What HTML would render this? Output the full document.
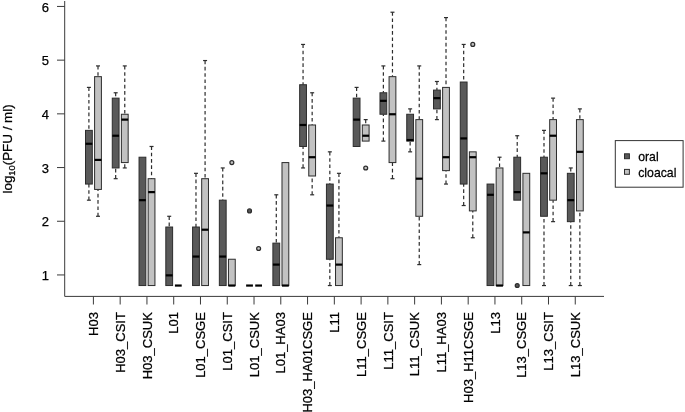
<!DOCTYPE html>
<html><head><meta charset="utf-8"><title>boxplot</title>
<style>
html,body{margin:0;padding:0;background:#fff;}
svg{display:block;}
.t{font-family:"Liberation Sans",Arial,sans-serif;font-size:13px;fill:#000;stroke:#000;stroke-width:0.25px;}
.a{stroke:#3a3a3a;stroke-width:1;fill:none;}
.w{stroke:#2c2c2c;stroke-width:1.2;stroke-dasharray:3.6 2.7;fill:none;}
.s{stroke:#2c2c2c;stroke-width:1.2;fill:none;}
.b{stroke:#2c2c2c;stroke-width:1;}
.m{stroke:#000;stroke-width:2.2;stroke-linecap:butt;}
.o{stroke:#2c2c2c;stroke-width:1.25;}
</style></head><body>
<svg width="685" height="412" viewBox="0 0 685 412">
<rect width="685" height="412" fill="#fff"/>
<line x1="88.90" y1="87.40" x2="88.90" y2="130.36" class="w"/>
<line x1="86.90" y1="87.40" x2="90.90" y2="87.40" class="s"/>
<line x1="88.90" y1="200.17" x2="88.90" y2="184.06" class="w"/>
<line x1="86.90" y1="200.17" x2="90.90" y2="200.17" class="s"/>
<rect x="85.50" y="130.36" width="6.80" height="53.70" fill="#595959" class="b"/>
<line x1="85.50" y1="143.78" x2="92.30" y2="143.78" class="m"/>
<line x1="98.00" y1="65.92" x2="98.00" y2="76.66" class="w"/>
<line x1="96.00" y1="65.92" x2="100.00" y2="65.92" class="s"/>
<line x1="98.00" y1="216.28" x2="98.00" y2="189.43" class="w"/>
<line x1="96.00" y1="216.28" x2="100.00" y2="216.28" class="s"/>
<rect x="94.60" y="76.66" width="6.80" height="112.77" fill="#c2c2c2" class="b"/>
<line x1="94.60" y1="159.90" x2="101.40" y2="159.90" class="m"/>
<line x1="115.67" y1="92.77" x2="115.67" y2="98.14" class="w"/>
<line x1="113.67" y1="92.77" x2="117.67" y2="92.77" class="s"/>
<line x1="115.67" y1="178.69" x2="115.67" y2="167.95" class="w"/>
<line x1="113.67" y1="178.69" x2="117.67" y2="178.69" class="s"/>
<rect x="112.27" y="98.14" width="6.80" height="69.81" fill="#595959" class="b"/>
<line x1="112.27" y1="135.73" x2="119.07" y2="135.73" class="m"/>
<line x1="124.77" y1="65.92" x2="124.77" y2="114.25" class="w"/>
<line x1="122.77" y1="65.92" x2="126.77" y2="65.92" class="s"/>
<line x1="124.77" y1="167.95" x2="124.77" y2="162.58" class="w"/>
<line x1="122.77" y1="167.95" x2="126.77" y2="167.95" class="s"/>
<rect x="121.37" y="114.25" width="6.80" height="48.33" fill="#c2c2c2" class="b"/>
<line x1="121.37" y1="119.62" x2="128.17" y2="119.62" class="m"/>
<rect x="139.04" y="157.21" width="6.80" height="128.34" fill="#595959" class="b"/>
<line x1="139.04" y1="200.17" x2="145.84" y2="200.17" class="m"/>
<line x1="151.54" y1="146.47" x2="151.54" y2="178.69" class="w"/>
<line x1="149.54" y1="146.47" x2="153.54" y2="146.47" class="s"/>
<rect x="148.14" y="178.69" width="6.80" height="106.86" fill="#c2c2c2" class="b"/>
<line x1="148.14" y1="192.12" x2="154.94" y2="192.12" class="m"/>
<line x1="169.21" y1="216.28" x2="169.21" y2="227.02" class="w"/>
<line x1="167.21" y1="216.28" x2="171.21" y2="216.28" class="s"/>
<rect x="165.81" y="227.02" width="6.80" height="58.53" fill="#595959" class="b"/>
<line x1="165.81" y1="275.35" x2="172.61" y2="275.35" class="m"/>
<line x1="174.91" y1="285.55" x2="181.71" y2="285.55" class="m"/>
<line x1="195.98" y1="173.32" x2="195.98" y2="227.02" class="w"/>
<line x1="193.98" y1="173.32" x2="197.98" y2="173.32" class="s"/>
<rect x="192.58" y="227.02" width="6.80" height="58.53" fill="#595959" class="b"/>
<line x1="192.58" y1="256.56" x2="199.38" y2="256.56" class="m"/>
<line x1="205.08" y1="60.55" x2="205.08" y2="178.69" class="w"/>
<line x1="203.08" y1="60.55" x2="207.08" y2="60.55" class="s"/>
<rect x="201.68" y="178.69" width="6.80" height="106.86" fill="#c2c2c2" class="b"/>
<line x1="201.68" y1="229.71" x2="208.48" y2="229.71" class="m"/>
<line x1="222.75" y1="167.95" x2="222.75" y2="200.17" class="w"/>
<line x1="220.75" y1="167.95" x2="224.75" y2="167.95" class="s"/>
<rect x="219.35" y="200.17" width="6.80" height="85.38" fill="#595959" class="b"/>
<line x1="219.35" y1="256.56" x2="226.15" y2="256.56" class="m"/>
<rect x="228.45" y="259.24" width="6.80" height="26.31" fill="#c2c2c2" class="b"/>
<line x1="228.45" y1="285.55" x2="235.25" y2="285.55" class="m"/>
<circle cx="231.85" cy="162.58" r="1.95" fill="#c2c2c2" class="o"/>
<line x1="246.12" y1="285.55" x2="252.92" y2="285.55" class="m"/>
<circle cx="249.52" cy="210.91" r="1.95" fill="#595959" class="o"/>
<line x1="255.22" y1="285.55" x2="262.02" y2="285.55" class="m"/>
<circle cx="258.62" cy="248.50" r="1.95" fill="#c2c2c2" class="o"/>
<line x1="276.29" y1="194.80" x2="276.29" y2="243.13" class="w"/>
<line x1="274.29" y1="194.80" x2="278.29" y2="194.80" class="s"/>
<rect x="272.89" y="243.13" width="6.80" height="42.42" fill="#595959" class="b"/>
<line x1="272.89" y1="264.61" x2="279.69" y2="264.61" class="m"/>
<rect x="281.99" y="162.58" width="6.80" height="122.97" fill="#c2c2c2" class="b"/>
<line x1="281.99" y1="285.55" x2="288.79" y2="285.55" class="m"/>
<line x1="303.06" y1="44.44" x2="303.06" y2="84.72" class="w"/>
<line x1="301.06" y1="44.44" x2="305.06" y2="44.44" class="s"/>
<line x1="303.06" y1="167.95" x2="303.06" y2="146.47" class="w"/>
<line x1="301.06" y1="167.95" x2="305.06" y2="167.95" class="s"/>
<rect x="299.66" y="84.72" width="6.80" height="61.75" fill="#595959" class="b"/>
<line x1="299.66" y1="124.99" x2="306.46" y2="124.99" class="m"/>
<line x1="312.16" y1="92.77" x2="312.16" y2="124.99" class="w"/>
<line x1="310.16" y1="92.77" x2="314.16" y2="92.77" class="s"/>
<line x1="312.16" y1="194.80" x2="312.16" y2="176.00" class="w"/>
<line x1="310.16" y1="194.80" x2="314.16" y2="194.80" class="s"/>
<rect x="308.76" y="124.99" width="6.80" height="51.01" fill="#c2c2c2" class="b"/>
<line x1="308.76" y1="157.21" x2="315.56" y2="157.21" class="m"/>
<line x1="329.83" y1="151.84" x2="329.83" y2="184.06" class="w"/>
<line x1="327.83" y1="151.84" x2="331.83" y2="151.84" class="s"/>
<line x1="329.83" y1="285.55" x2="329.83" y2="259.24" class="w"/>
<line x1="327.83" y1="285.55" x2="331.83" y2="285.55" class="s"/>
<rect x="326.43" y="184.06" width="6.80" height="75.18" fill="#595959" class="b"/>
<line x1="326.43" y1="205.54" x2="333.23" y2="205.54" class="m"/>
<line x1="338.93" y1="173.32" x2="338.93" y2="237.76" class="w"/>
<line x1="336.93" y1="173.32" x2="340.93" y2="173.32" class="s"/>
<rect x="335.53" y="237.76" width="6.80" height="47.79" fill="#c2c2c2" class="b"/>
<line x1="335.53" y1="264.61" x2="342.33" y2="264.61" class="m"/>
<line x1="356.60" y1="87.40" x2="356.60" y2="98.14" class="w"/>
<line x1="354.60" y1="87.40" x2="358.60" y2="87.40" class="s"/>
<rect x="353.20" y="98.14" width="6.80" height="48.33" fill="#595959" class="b"/>
<line x1="353.20" y1="119.62" x2="360.00" y2="119.62" class="m"/>
<line x1="365.70" y1="119.62" x2="365.70" y2="124.99" class="w"/>
<line x1="363.70" y1="119.62" x2="367.70" y2="119.62" class="s"/>
<rect x="362.30" y="124.99" width="6.80" height="16.11" fill="#c2c2c2" class="b"/>
<line x1="362.30" y1="135.73" x2="369.10" y2="135.73" class="m"/>
<circle cx="365.70" cy="167.95" r="1.95" fill="#c2c2c2" class="o"/>
<line x1="383.37" y1="65.92" x2="383.37" y2="92.77" class="w"/>
<line x1="381.37" y1="65.92" x2="385.37" y2="65.92" class="s"/>
<line x1="383.37" y1="141.10" x2="383.37" y2="114.25" class="w"/>
<line x1="381.37" y1="141.10" x2="385.37" y2="141.10" class="s"/>
<rect x="379.97" y="92.77" width="6.80" height="21.48" fill="#595959" class="b"/>
<line x1="379.97" y1="100.83" x2="386.77" y2="100.83" class="m"/>
<line x1="392.47" y1="12.22" x2="392.47" y2="76.66" class="w"/>
<line x1="390.47" y1="12.22" x2="394.47" y2="12.22" class="s"/>
<line x1="392.47" y1="178.69" x2="392.47" y2="162.58" class="w"/>
<line x1="390.47" y1="178.69" x2="394.47" y2="178.69" class="s"/>
<rect x="389.07" y="76.66" width="6.80" height="85.92" fill="#c2c2c2" class="b"/>
<line x1="389.07" y1="114.25" x2="395.87" y2="114.25" class="m"/>
<line x1="410.14" y1="108.88" x2="410.14" y2="114.25" class="w"/>
<line x1="408.14" y1="108.88" x2="412.14" y2="108.88" class="s"/>
<line x1="410.14" y1="151.84" x2="410.14" y2="141.10" class="w"/>
<line x1="408.14" y1="151.84" x2="412.14" y2="151.84" class="s"/>
<rect x="406.74" y="114.25" width="6.80" height="26.85" fill="#595959" class="b"/>
<line x1="406.74" y1="140.03" x2="413.54" y2="140.03" class="m"/>
<line x1="419.24" y1="65.92" x2="419.24" y2="119.62" class="w"/>
<line x1="417.24" y1="65.92" x2="421.24" y2="65.92" class="s"/>
<line x1="419.24" y1="264.61" x2="419.24" y2="216.28" class="w"/>
<line x1="417.24" y1="264.61" x2="421.24" y2="264.61" class="s"/>
<rect x="415.84" y="119.62" width="6.80" height="96.66" fill="#c2c2c2" class="b"/>
<line x1="415.84" y1="178.69" x2="422.64" y2="178.69" class="m"/>
<line x1="436.91" y1="81.49" x2="436.91" y2="90.09" class="w"/>
<line x1="434.91" y1="81.49" x2="438.91" y2="81.49" class="s"/>
<line x1="436.91" y1="119.62" x2="436.91" y2="108.88" class="w"/>
<line x1="434.91" y1="119.62" x2="438.91" y2="119.62" class="s"/>
<rect x="433.51" y="90.09" width="6.80" height="18.80" fill="#595959" class="b"/>
<line x1="433.51" y1="98.14" x2="440.31" y2="98.14" class="m"/>
<line x1="446.01" y1="17.59" x2="446.01" y2="87.40" class="w"/>
<line x1="444.01" y1="17.59" x2="448.01" y2="17.59" class="s"/>
<line x1="446.01" y1="184.06" x2="446.01" y2="170.63" class="w"/>
<line x1="444.01" y1="184.06" x2="448.01" y2="184.06" class="s"/>
<rect x="442.61" y="87.40" width="6.80" height="83.23" fill="#c2c2c2" class="b"/>
<line x1="442.61" y1="157.21" x2="449.41" y2="157.21" class="m"/>
<line x1="463.68" y1="44.44" x2="463.68" y2="82.03" class="w"/>
<line x1="461.68" y1="44.44" x2="465.68" y2="44.44" class="s"/>
<line x1="463.68" y1="205.54" x2="463.68" y2="184.06" class="w"/>
<line x1="461.68" y1="205.54" x2="465.68" y2="205.54" class="s"/>
<rect x="460.28" y="82.03" width="6.80" height="102.03" fill="#595959" class="b"/>
<line x1="460.28" y1="138.42" x2="467.08" y2="138.42" class="m"/>
<line x1="472.78" y1="237.76" x2="472.78" y2="210.91" class="w"/>
<line x1="470.78" y1="237.76" x2="474.78" y2="237.76" class="s"/>
<rect x="469.38" y="151.84" width="6.80" height="59.07" fill="#c2c2c2" class="b"/>
<line x1="469.38" y1="157.21" x2="476.18" y2="157.21" class="m"/>
<circle cx="472.78" cy="44.44" r="1.95" fill="#c2c2c2" class="o"/>
<rect x="487.05" y="184.06" width="6.80" height="101.49" fill="#595959" class="b"/>
<line x1="487.05" y1="194.80" x2="493.85" y2="194.80" class="m"/>
<line x1="499.55" y1="157.21" x2="499.55" y2="167.95" class="w"/>
<line x1="497.55" y1="157.21" x2="501.55" y2="157.21" class="s"/>
<rect x="496.15" y="167.95" width="6.80" height="117.60" fill="#c2c2c2" class="b"/>
<line x1="496.15" y1="285.55" x2="502.95" y2="285.55" class="m"/>
<line x1="517.22" y1="135.73" x2="517.22" y2="157.21" class="w"/>
<line x1="515.22" y1="135.73" x2="519.22" y2="135.73" class="s"/>
<rect x="513.82" y="157.21" width="6.80" height="42.96" fill="#595959" class="b"/>
<line x1="513.82" y1="192.12" x2="520.62" y2="192.12" class="m"/>
<circle cx="517.22" cy="285.55" r="1.95" fill="#595959" class="o"/>
<rect x="522.92" y="173.32" width="6.80" height="112.23" fill="#c2c2c2" class="b"/>
<line x1="522.92" y1="232.39" x2="529.72" y2="232.39" class="m"/>
<line x1="543.99" y1="130.36" x2="543.99" y2="157.21" class="w"/>
<line x1="541.99" y1="130.36" x2="545.99" y2="130.36" class="s"/>
<line x1="543.99" y1="285.55" x2="543.99" y2="216.28" class="w"/>
<line x1="541.99" y1="285.55" x2="545.99" y2="285.55" class="s"/>
<rect x="540.59" y="157.21" width="6.80" height="59.07" fill="#595959" class="b"/>
<line x1="540.59" y1="173.32" x2="547.39" y2="173.32" class="m"/>
<line x1="553.09" y1="98.14" x2="553.09" y2="119.62" class="w"/>
<line x1="551.09" y1="98.14" x2="555.09" y2="98.14" class="s"/>
<line x1="553.09" y1="221.65" x2="553.09" y2="200.17" class="w"/>
<line x1="551.09" y1="221.65" x2="555.09" y2="221.65" class="s"/>
<rect x="549.69" y="119.62" width="6.80" height="80.55" fill="#c2c2c2" class="b"/>
<line x1="549.69" y1="135.73" x2="556.49" y2="135.73" class="m"/>
<line x1="570.76" y1="167.95" x2="570.76" y2="173.32" class="w"/>
<line x1="568.76" y1="167.95" x2="572.76" y2="167.95" class="s"/>
<line x1="570.76" y1="285.55" x2="570.76" y2="221.65" class="w"/>
<line x1="568.76" y1="285.55" x2="572.76" y2="285.55" class="s"/>
<rect x="567.36" y="173.32" width="6.80" height="48.33" fill="#595959" class="b"/>
<line x1="567.36" y1="200.17" x2="574.16" y2="200.17" class="m"/>
<line x1="579.86" y1="108.88" x2="579.86" y2="119.62" class="w"/>
<line x1="577.86" y1="108.88" x2="581.86" y2="108.88" class="s"/>
<line x1="579.86" y1="285.55" x2="579.86" y2="210.91" class="w"/>
<line x1="577.86" y1="285.55" x2="581.86" y2="285.55" class="s"/>
<rect x="576.46" y="119.62" width="6.80" height="91.29" fill="#c2c2c2" class="b"/>
<line x1="576.46" y1="151.84" x2="583.26" y2="151.84" class="m"/>
<polyline points="64.7,1 64.7,296.4 604,296.4" class="a"/>
<line x1="57" y1="274.95" x2="64.7" y2="274.95" class="a"/>
<text x="48.9" y="280.00" text-anchor="end" class="t">1</text>
<line x1="57" y1="221.25" x2="64.7" y2="221.25" class="a"/>
<text x="48.9" y="226.30" text-anchor="end" class="t">2</text>
<line x1="57" y1="167.55" x2="64.7" y2="167.55" class="a"/>
<text x="48.9" y="172.60" text-anchor="end" class="t">3</text>
<line x1="57" y1="113.85" x2="64.7" y2="113.85" class="a"/>
<text x="48.9" y="118.90" text-anchor="end" class="t">4</text>
<line x1="57" y1="60.15" x2="64.7" y2="60.15" class="a"/>
<text x="48.9" y="65.20" text-anchor="end" class="t">5</text>
<line x1="57" y1="6.45" x2="64.7" y2="6.45" class="a"/>
<text x="48.9" y="11.50" text-anchor="end" class="t">6</text>
<line x1="93.40" y1="296.4" x2="93.40" y2="304.5" class="a"/>
<text transform="translate(98.10,312.1) rotate(-90)" text-anchor="end" class="t">H03</text>
<line x1="120.17" y1="296.4" x2="120.17" y2="304.5" class="a"/>
<text transform="translate(124.87,312.1) rotate(-90)" text-anchor="end" class="t">H03_CSIT</text>
<line x1="146.94" y1="296.4" x2="146.94" y2="304.5" class="a"/>
<text transform="translate(151.64,312.1) rotate(-90)" text-anchor="end" class="t">H03_CSUK</text>
<line x1="173.71" y1="296.4" x2="173.71" y2="304.5" class="a"/>
<text transform="translate(178.41,312.1) rotate(-90)" text-anchor="end" class="t">L01</text>
<line x1="200.48" y1="296.4" x2="200.48" y2="304.5" class="a"/>
<text transform="translate(205.18,312.1) rotate(-90)" text-anchor="end" class="t">L01_CSGE</text>
<line x1="227.25" y1="296.4" x2="227.25" y2="304.5" class="a"/>
<text transform="translate(231.95,312.1) rotate(-90)" text-anchor="end" class="t">L01_CSIT</text>
<line x1="254.02" y1="296.4" x2="254.02" y2="304.5" class="a"/>
<text transform="translate(258.72,312.1) rotate(-90)" text-anchor="end" class="t">L01_CSUK</text>
<line x1="280.79" y1="296.4" x2="280.79" y2="304.5" class="a"/>
<text transform="translate(285.49,312.1) rotate(-90)" text-anchor="end" class="t">L01_HA03</text>
<line x1="307.56" y1="296.4" x2="307.56" y2="304.5" class="a"/>
<text transform="translate(312.26,312.1) rotate(-90)" text-anchor="end" class="t">H03_HA01CSGE</text>
<line x1="334.33" y1="296.4" x2="334.33" y2="304.5" class="a"/>
<text transform="translate(339.03,312.1) rotate(-90)" text-anchor="end" class="t">L11</text>
<line x1="361.10" y1="296.4" x2="361.10" y2="304.5" class="a"/>
<text transform="translate(365.80,312.1) rotate(-90)" text-anchor="end" class="t">L11_CSGE</text>
<line x1="387.87" y1="296.4" x2="387.87" y2="304.5" class="a"/>
<text transform="translate(392.57,312.1) rotate(-90)" text-anchor="end" class="t">L11_CSIT</text>
<line x1="414.64" y1="296.4" x2="414.64" y2="304.5" class="a"/>
<text transform="translate(419.34,312.1) rotate(-90)" text-anchor="end" class="t">L11_CSUK</text>
<line x1="441.41" y1="296.4" x2="441.41" y2="304.5" class="a"/>
<text transform="translate(446.11,312.1) rotate(-90)" text-anchor="end" class="t">L11_HA03</text>
<line x1="468.18" y1="296.4" x2="468.18" y2="304.5" class="a"/>
<text transform="translate(472.88,312.1) rotate(-90)" text-anchor="end" class="t">H03_H11CSGE</text>
<line x1="494.95" y1="296.4" x2="494.95" y2="304.5" class="a"/>
<text transform="translate(499.65,312.1) rotate(-90)" text-anchor="end" class="t">L13</text>
<line x1="521.72" y1="296.4" x2="521.72" y2="304.5" class="a"/>
<text transform="translate(526.42,312.1) rotate(-90)" text-anchor="end" class="t">L13_CSGE</text>
<line x1="548.49" y1="296.4" x2="548.49" y2="304.5" class="a"/>
<text transform="translate(553.19,312.1) rotate(-90)" text-anchor="end" class="t">L13_CSIT</text>
<line x1="575.26" y1="296.4" x2="575.26" y2="304.5" class="a"/>
<text transform="translate(579.96,312.1) rotate(-90)" text-anchor="end" class="t">L13_CSUK</text>
<text transform="translate(12.2,148.9) rotate(-90)" text-anchor="middle" class="t" style="font-size:13.4px">log<tspan dy="2.7" font-size="9.3">10</tspan><tspan dy="-2.7">(PFU / ml)</tspan></text>
<rect x="615.3" y="140.6" width="67.8" height="46.6" fill="#fff" stroke="#333" stroke-width="1"/>
<rect x="624.5" y="153.8" width="4.9" height="4.9" fill="#595959" class="b"/>
<rect x="624.5" y="169.4" width="4.9" height="4.9" fill="#c2c2c2" class="b"/>
<text transform="translate(638.2,161) scale(0.945,1)" class="t">oral</text>
<text transform="translate(638.2,176.7) scale(0.945,1)" class="t">cloacal</text>
</svg>
</body></html>
